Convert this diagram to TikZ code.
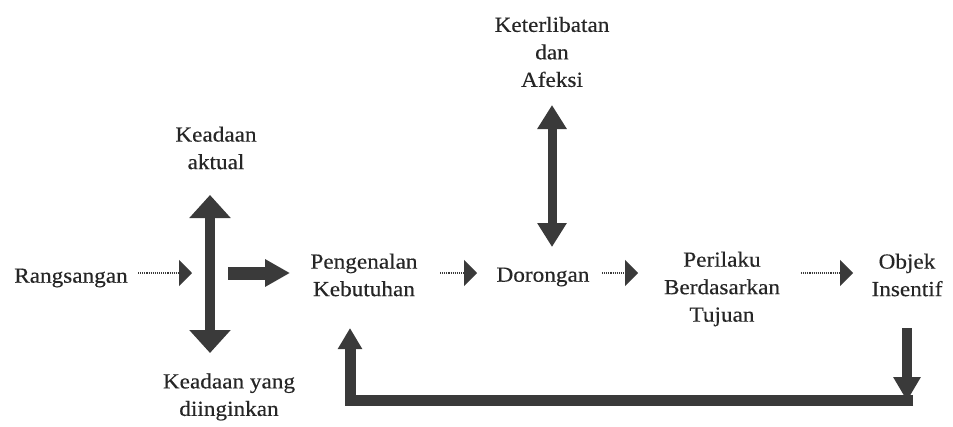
\documentclass[tikz,border=0pt]{standalone}
\usepackage{fontspec}
\setmainfont{Liberation Serif}[FakeStretch=1.08,FakeBold=0.3]
\usetikzlibrary{arrows.meta}
\definecolor{ink}{HTML}{3A3A3A}
\definecolor{txt}{HTML}{262626}
\begin{document}
\begin{tikzpicture}[x=1pt,y=-1pt,
  lbl/.style={font=\fontsize{21.5}{27.5}\selectfont, text=txt, align=center, inner sep=0pt},
  dotarrow/.style={draw=ink, line width=1.1pt, densely dotted, -{Triangle[length=13pt,width=26pt]}},
  fatboth/.style={draw=ink, line width=10pt, {Triangle[length=23pt,width=40pt]}-{Triangle[length=23pt,width=40pt]}},
  slimboth/.style={draw=ink, line width=9pt, {Triangle[length=24pt,width=28pt]}-{Triangle[length=24pt,width=28pt]}},
  fatright/.style={draw=ink, line width=13pt, -{Triangle[length=25pt,width=26pt]}},
  fatdown/.style={draw=ink, line width=10pt, -{Triangle[length=24pt,width=26pt]}},
  loopline/.style={draw=ink, line width=11pt, line join=miter, -{Triangle[length=21pt,width=23pt]}}
]
\useasboundingbox (0,0) rectangle (953,426);
\fill[white] (0,0) rectangle (953,426);

\node[lbl] (rang) at (71,278) {Rangsangan};
\node[lbl] (aktual) at (216,148) {Keadaan\\aktual};
\node[lbl] (ingin) at (229,397) {Keadaan yang\\diinginkan};
\node[lbl] (pk) at (364,275) {Pengenalan\\Kebutuhan};
\node[lbl] (dor) at (543,277) {Dorongan};
\node[lbl] (per) at (722,289) {Perilaku\\Berdasarkan\\Tujuan};
\node[lbl] (obj) at (907,275) {Objek\\Insentif};
\node[lbl] (ket) at (552,52) {Keterlibatan\\dan\\Afeksi};

% arrow end points
\coordinate (r0) at (138,273);
\coordinate (r1) at (192,273);
\coordinate (f0) at (228,273);
\coordinate (f1) at (290,273);
\coordinate (vt) at (210,195);
\coordinate (vb) at (210,353);
\coordinate (kt) at (552,105);
\coordinate (kb) at (552,247);
\coordinate (a0) at (440,273);
\coordinate (a1) at (477,273);
\coordinate (b0) at (602,273);
\coordinate (b1) at (638,273);
\coordinate (c0) at (801,273);
\coordinate (c1) at (853,273);
\coordinate (dt) at (907,328);
\coordinate (db) at (907,401);
\coordinate (le) at (913,400);
\coordinate (lc) at (350,400);
\coordinate (lt) at (350,328);

\draw[dotarrow] (r0) -- (r1);
\draw[fatright] (f0) -- (f1);
\draw[fatboth] (vt) -- (vb);
\draw[slimboth] (kt) -- (kb);
\draw[dotarrow] (a0) -- (a1);
\draw[dotarrow] (b0) -- (b1);
\draw[dotarrow] (c0) -- (c1);
\draw[loopline] (le) -- (lc) -- (lt);
\draw[fatdown] (dt) -- (db);
\end{tikzpicture}
\end{document}
